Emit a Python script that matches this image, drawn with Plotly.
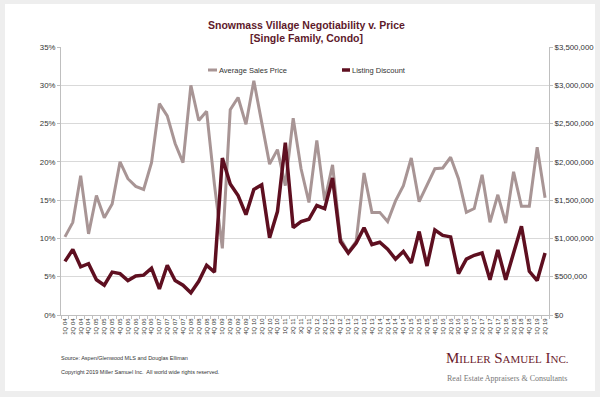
import plotly.graph_objects as go

quarters = [f"{q}Q {y:02d}" for y in range(4, 20) for q in range(1, 5)][:62]

avg_sales_price = [
    1020000, 1210000, 1820000, 1060000, 1560000, 1270000, 1450000, 2000000,
    1780000, 1680000, 1640000, 1990000, 2760000, 2600000, 2240000, 1990000,
    3000000, 2540000, 2660000, 1700000, 870000, 2680000, 2840000, 2490000,
    3060000, 2520000, 1970000, 2160000, 1690000, 2570000, 1910000, 1470000,
    2280000, 1490000, 1960000, 1000000, 820000, 960000, 1855000, 1340000,
    1340000, 1220000, 1490000, 1690000, 2050000, 1480000, 1690000, 1910000,
    1920000, 2060000, 1780000, 1340000, 1390000, 1830000, 1210000, 1570000,
    1200000, 1870000, 1420000, 1420000, 2190000, 1530000,
]

listing_discount = [
    7.0, 8.55, 6.3, 6.7, 4.6, 3.9, 5.6, 5.4, 4.5, 5.1,
    5.2, 6.1, 3.4, 6.5, 4.5, 3.9, 2.9, 4.4, 6.5, 5.6,
    20.5, 17.1, 15.6, 13.1, 16.4, 17.0, 10.1, 13.5, 22.5, 11.4,
    12.2, 12.5, 14.3, 13.9, 17.9, 9.6, 8.1, 9.4, 11.4, 9.2,
    9.5, 8.6, 7.3, 8.3, 6.8, 10.9, 6.4, 11.1, 10.4, 10.2,
    5.4, 7.3, 7.8, 8.1, 4.6, 8.5, 4.6, 8.1, 11.6, 5.7, 4.5, 8.1,
]

GRAY = "#a89595"
RED = "#5e0f20"
TITLE_COLOR = "#5e1a2b"
AXIS_COLOR = "#bfbfbf"

W, H = 600, 397
L, R, T, B = 61, 51, 47, 82
pw, ph = W - L - R, H - T - B


def px(x):
    return (x - L) / pw


def py(y):
    return (H - B - y) / ph


fig = go.Figure()
fig.add_trace(go.Scatter(
    x=quarters, y=avg_sales_price, name="Average Sales Price", mode="lines",
    line=dict(color=GRAY, width=3), yaxis="y", showlegend=False,
))
fig.add_trace(go.Scatter(
    x=quarters, y=listing_discount, name="Listing Discount", mode="lines",
    line=dict(color=RED, width=3.5), yaxis="y2", showlegend=False,
))

tick_font = dict(family="Arial, Liberation Sans", size=7.8, color="#333333")

fig.update_layout(
    width=W, height=H,
    margin=dict(l=L, r=R, t=T, b=B, autoexpand=False),
    paper_bgcolor="#eeeeee",
    plot_bgcolor="white",
    xaxis=dict(
        type="category", tickangle=-90, automargin=False,
        tickfont=dict(family="Arial, Liberation Sans", size=6, color="#333333"),
        showline=True, linecolor=AXIS_COLOR, linewidth=1,
        ticks="outside", ticklen=3, tickcolor=AXIS_COLOR, tickson="boundaries",
        showgrid=False, range=[-0.5, len(quarters) - 0.5],
    ),
    yaxis=dict(
        side="right", range=[0, 3500000], dtick=500000, tickformat="$,.0f",
        automargin=False,
        tickfont=tick_font, showgrid=True, gridcolor="#d9d9d9", gridwidth=1,
        showline=True, linecolor=AXIS_COLOR, ticks="outside", ticklen=3,
        tickcolor=AXIS_COLOR, zeroline=False,
    ),
    yaxis2=dict(
        side="left", overlaying="y", range=[0, 35], dtick=5, ticksuffix="%",
        automargin=False,
        tickfont=tick_font, showgrid=False, showline=True, linecolor=AXIS_COLOR,
        ticks="outside", ticklen=3, tickcolor=AXIS_COLOR, zeroline=False,
    ),
    shapes=[
        dict(type="rect", xref="paper", yref="paper", layer="below",
             x0=px(5), x1=px(595), y0=py(391), y1=py(4),
             fillcolor="white", line=dict(width=0)),
        dict(type="line", xref="paper", yref="paper",
             x0=px(208), x1=px(217), y0=py(70), y1=py(70),
             line=dict(color=GRAY, width=3)),
        dict(type="line", xref="paper", yref="paper",
             x0=px(342), x1=px(350), y0=py(70), y1=py(70),
             line=dict(color=RED, width=3.5)),
    ],
    annotations=[
        dict(text="<b>Snowmass Village Negotiability v. Price</b>", xref="paper", yref="paper",
             x=px(306), y=py(25), xanchor="center", yanchor="middle", showarrow=False,
             font=dict(family="Arial, Liberation Sans", size=10.5, color=TITLE_COLOR)),
        dict(text="<b>[Single Family, Condo]</b>", xref="paper", yref="paper",
             x=px(306), y=py(38), xanchor="center", yanchor="middle", showarrow=False,
             font=dict(family="Arial, Liberation Sans", size=10.5, color=TITLE_COLOR)),
        dict(text="Average Sales Price", xref="paper", yref="paper",
             x=px(217), y=py(70), xanchor="left", yanchor="middle", showarrow=False,
             font=dict(family="Arial, Liberation Sans", size=7.5, color="#333333")),
        dict(text="Listing Discount", xref="paper", yref="paper",
             x=px(350), y=py(70), xanchor="left", yanchor="middle", showarrow=False,
             font=dict(family="Arial, Liberation Sans", size=7.5, color="#333333")),
        dict(text="Source: Aspen/Glenwood MLS and Douglas Elliman", xref="paper", yref="paper",
             x=px(59), y=py(358), xanchor="left", yanchor="middle", showarrow=False,
             font=dict(family="Arial, Liberation Sans", size=5.5, color="#333333")),
        dict(text="Copyright 2019 Miller Samuel Inc.  All world wide rights reserved.", xref="paper", yref="paper",
             x=px(59), y=py(372), xanchor="left", yanchor="middle", showarrow=False,
             font=dict(family="Arial, Liberation Sans", size=5.5, color="#333333")),
        dict(text="M<span style='font-size:11px'>ILLER</span> S<span style='font-size:11px'>AMUEL</span> I<span style='font-size:11px'>NC.</span>",
             xref="paper", yref="paper",
             x=px(571), y=py(358), xanchor="right", yanchor="middle", showarrow=False,
             font=dict(family="Liberation Serif, Times New Roman", size=15, color="#6b1a2c")),
        dict(text="Real Estate Appraisers &amp; Consultants", xref="paper", yref="paper",
             x=px(569), y=py(378), xanchor="right", yanchor="middle", showarrow=False,
             font=dict(family="Liberation Serif, Times New Roman", size=8, color="#777777")),
    ],
)

fig.write_html(
    "out.html",
    config={"displayModeBar": False},
    post_script="document.body.style.margin='0';document.body.style.overflow='hidden';",
)
